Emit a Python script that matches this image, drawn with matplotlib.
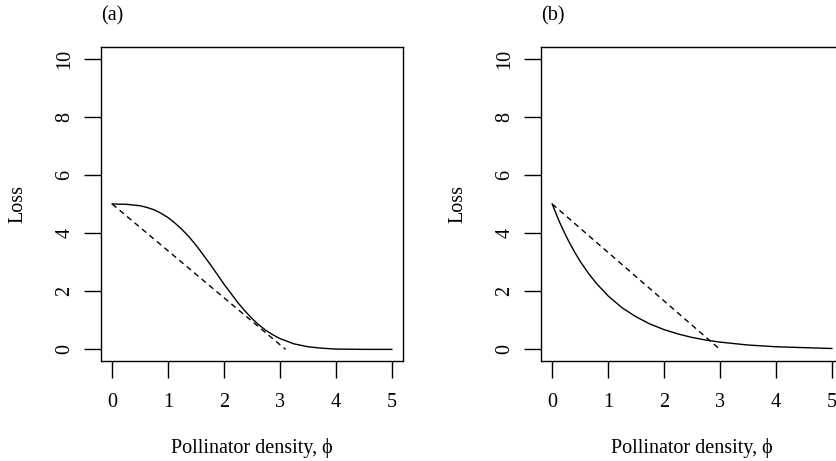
import matplotlib
matplotlib.use("Agg")
import matplotlib.pyplot as plt

plt.rcParams['font.family'] = ['Liberation Serif', 'DejaVu Serif']
plt.rcParams['font.size'] = 14.5

# panel (a): sigmoid loss curve and linear reference
xa_curve = [0, 0.25, 0.5, 0.625, 0.75, 0.875, 1.0, 1.125, 1.25, 1.375, 1.5,
            1.625, 1.75, 1.875, 2.0, 2.125, 2.25, 2.375, 2.5, 2.625, 2.75,
            2.875, 3.0, 3.25, 3.5, 3.75, 4.0, 4.5, 5.0]
ya_curve = [5.00, 4.99, 4.94, 4.88, 4.80, 4.68, 4.53, 4.34, 4.12, 3.87, 3.58,
            3.26, 2.93, 2.59, 2.24, 1.92, 1.60, 1.32, 1.06, 0.84, 0.65,
            0.50, 0.37, 0.19, 0.09, 0.04, 0.01, 0.00, 0.00]
xa_line = [0, 3.1]
ya_line = [5, 0]

# panel (b): convex loss curve and linear reference
xb_curve = [0, 0.05, 0.1, 0.15, 0.2, 0.3, 0.4, 0.5, 0.65, 0.8, 1.0, 1.25, 1.5,
            1.75, 2.0, 2.25, 2.5, 2.75, 3.0, 3.5, 4.0, 4.5, 5.0]
yb_curve = [5.00, 4.76, 4.52, 4.30, 4.09, 3.70, 3.35, 3.03, 2.61, 2.25, 1.84,
            1.43, 1.12, 0.87, 0.68, 0.53, 0.41, 0.32, 0.25, 0.15, 0.09, 0.06,
            0.03]
xb_line = [0, 3.0]
yb_line = [5, 0]

xticks = [0, 1, 2, 3, 4, 5]
yticks = [0, 2, 4, 6, 8, 10]
panel_labels = ["(a)", "(b)"]

fig = plt.figure(figsize=(8.36, 4.61), dpi=100)
ax_a = fig.add_axes([101 / 836, 100 / 461, 302 / 836, 314 / 461])
ax_b = fig.add_axes([541 / 836, 100 / 461, 302 / 836, 314 / 461])

panels = [(ax_a, xa_curve, ya_curve, xa_line, ya_line),
          (ax_b, xb_curve, yb_curve, xb_line, yb_line)]

for (ax, xc, yc, xl, yl), lab in zip(panels, panel_labels):
    ax.plot(xc, yc, color='black', lw=1.0)
    ax.plot(xl, yl, color='black', lw=1.0, linestyle=(0, (4, 3)))
    ax.set_xlim(-0.2, 5.2)
    ax.set_ylim(-0.4, 10.4)
    ax.set_xticks(xticks)
    ax.set_yticks(yticks)
    ax.set_yticklabels([str(v) for v in yticks], rotation=90, va='center')
    ax.tick_params(direction='out', length=12, width=1.0, colors='black')
    ax.tick_params(axis='x', pad=11)
    ax.tick_params(axis='y', pad=7)
    for s in ax.spines.values():
        s.set_linewidth(1.0)
    ax.set_xlabel("Pollinator density, \u03d5", labelpad=19)
    ax.set_ylabel("Loss", labelpad=20)
    ax.text(0, 1.0 + 31.5 / 314, lab, transform=ax.transAxes, ha='left', va='center')

fig.savefig("out.png", dpi=100)
